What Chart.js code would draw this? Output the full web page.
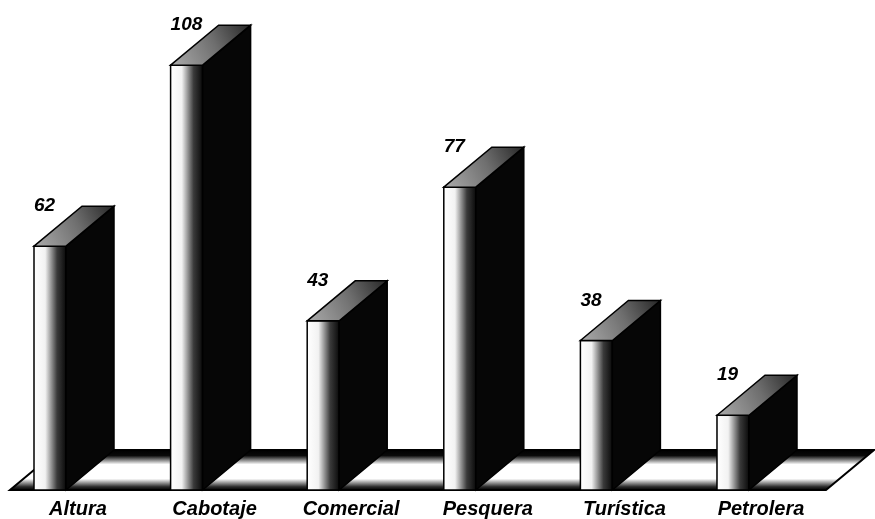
<!DOCTYPE html>
<html>
<head>
<meta charset="utf-8">
<script src="https://cdn.jsdelivr.net/npm/chart.js@4/dist/chart.umd.min.js"></script>
<style>
  html, body { margin: 0; padding: 0; background: #fff; }
  canvas { display: block; }
</style>
</head>
<body>
<canvas id="bar-chart" width="875" height="519"></canvas>
<script>
// data
const categories = ["Altura", "Cabotaje", "Comercial", "Pesquera", "Turística", "Petrolera"];
const values = [62, 108, 43, 77, 38, 19];
const yMax = 120;

// depth of the fake 3d look
const DX = 48, DY = -40;
const VALUE_FONT = 'italic bold 19px "Liberation Sans", Arial, sans-serif';
const LABEL_FONT = 'italic bold 20px "Liberation Sans", Arial, sans-serif';

const bars3d = {
  id: "bars3d",
  beforeDatasetsDraw(chart) {
    const c = chart.ctx;
    const y0 = chart.scales.y.getPixelForValue(0);
    const xl = chart.scales.x.getPixelForValue(0) - 40;
    const xr = chart.scales.x.getPixelForValue(categories.length - 1) + 93;

    // floor slab
    c.save();
    c.beginPath();
    c.moveTo(xl, y0);
    c.lineTo(xr, y0);
    c.lineTo(xr + DX, y0 + DY);
    c.lineTo(xl + DX, y0 + DY);
    c.closePath();
    const g = c.createLinearGradient(0, y0 + DY, 0, y0);
    g.addColorStop(0, "#000");
    g.addColorStop(0.14, "#0a0a0a");
    g.addColorStop(0.36, "#ffffff");
    g.addColorStop(0.72, "#ffffff");
    g.addColorStop(0.92, "#2a2a2a");
    g.addColorStop(1, "#000");
    c.fillStyle = g;
    c.fill();
    c.lineWidth = 2;
    c.strokeStyle = "#000";
    c.stroke();
    c.restore();
  },
  afterDatasetsDraw(chart) {
    const c = chart.ctx;
    const meta = chart.getDatasetMeta(0);
    c.save();
    c.lineWidth = 1.5;
    c.strokeStyle = "#000";
    meta.data.forEach((bar, i) => {
      const { x, y, base, width } = bar.getProps(["x", "y", "base", "width"], true);
      const l = x - width / 2, r = x + width / 2;

      // front face shading, white to black
      const fg = c.createLinearGradient(l, 0, r, 0);
      fg.addColorStop(0, "#ffffff");
      fg.addColorStop(0.35, "#f2f2f2");
      fg.addColorStop(0.72, "#3a3a3a");
      fg.addColorStop(1, "#0a0a0a");
      c.fillStyle = fg;
      c.fillRect(l, y, width, base - y);
      c.strokeRect(l, y, width, base - y);

      // side face
      c.beginPath();
      c.moveTo(r, y);
      c.lineTo(r + DX, y + DY);
      c.lineTo(r + DX, base + DY);
      c.lineTo(r, base);
      c.closePath();
      c.fillStyle = "#060606";
      c.fill();
      c.stroke();

      // top face
      c.beginPath();
      c.moveTo(l, y);
      c.lineTo(l + DX, y + DY);
      c.lineTo(r + DX, y + DY);
      c.lineTo(r, y);
      c.closePath();
      const tg = c.createLinearGradient(l, y, r + DX, y + DY);
      tg.addColorStop(0, "#ababab");
      tg.addColorStop(0.55, "#6e6e6e");
      tg.addColorStop(1, "#262626");
      c.fillStyle = tg;
      c.fill();
      c.stroke();

      // value label
      c.fillStyle = "#000";
      c.font = VALUE_FONT;
      c.textAlign = "left";
      c.textBaseline = "alphabetic";
      c.fillText(String(values[i]), l, y - 35);

      // category label
      c.font = LABEL_FONT;
      c.textAlign = "center";
      c.fillText(categories[i], x + 28, base + 25);
    });
    c.restore();
  }
};

new Chart(document.getElementById("bar-chart").getContext("2d"), {
  type: "bar",
  data: {
    labels: categories,
    datasets: [{
      data: values,
      backgroundColor: "#ffffff",
      borderColor: "#000",
      borderWidth: 1.5,
      barThickness: 32,
    }],
  },
  options: {
    responsive: false,
    animation: false,
    devicePixelRatio: 1,
    layout: { padding: { left: 50, right: 142, top: 18, bottom: 29 } },
    plugins: {
      legend: { display: false },
      tooltip: { enabled: false },
      title: { display: false },
    },
    scales: {
      x: { display: false, offset: false },
      y: { display: false, min: 0, max: yMax },
    },
  },
  plugins: [bars3d],
});
</script>
</body>
</html>
